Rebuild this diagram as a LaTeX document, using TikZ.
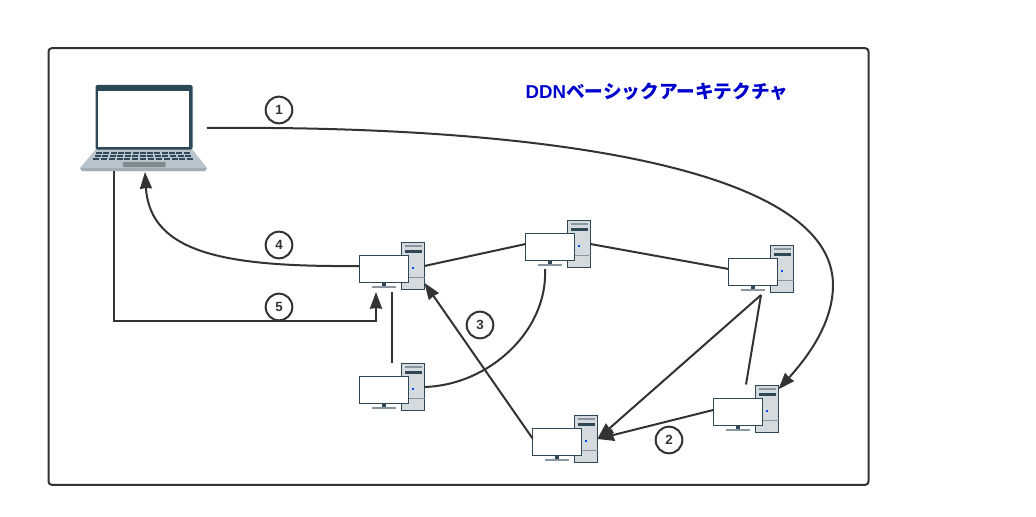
\documentclass[tikz,border=0pt]{standalone}
\usepackage{fontspec}
\usepackage{tikz}
\usetikzlibrary{arrows.meta}
\setmainfont{Liberation Sans}
\newfontfamily\cjkfont{Noto Sans CJK JP}
\definecolor{inkline}{HTML}{333333}
\definecolor{navyline}{HTML}{2F4858}
\definecolor{towerfill}{HTML}{D5DADF}
\definecolor{slotgray}{HTML}{8A969F}
\definecolor{basegray}{HTML}{B9C3CB}
\definecolor{edgegray}{HTML}{A2ADB6}
\definecolor{padgray}{HTML}{7F8B8C}
\definecolor{titleblue}{HTML}{0000CC}

\begin{document}
\begin{tikzpicture}[%
  x=0.75pt, y=-0.75pt,
  link/.style={draw=inkline, line width=1.5pt},
  arrowlink/.style={link, -{Stealth[length=12.5pt, width=9pt, inset=0.5pt]}},
  step label/.style={circle, draw=inkline, line width=1.5pt, minimum size=20pt, inner sep=0pt, font=\fontsize{10}{12}\selectfont\bfseries, text=inkline},
  monbox/.style={rectangle, draw=navyline, fill=white, line width=1pt, minimum width=36.5pt, minimum height=20.5pt, inner sep=0pt, outer sep=0pt},
  towerbox/.style={rectangle, draw=navyline, fill=towerfill, line width=1pt, minimum width=17pt, minimum height=35.5pt, inner sep=0pt, outer sep=0pt},
  pics/pc/.style={code={
    \node[towerbox] (-tow) at (54,11) {};
    \fill[slotgray] (45.5,-10) rectangle (62.5,-8);
    \fill[navyline] (45.5,-5) rectangle (62.5,-2);
    \fill[blue!70!cyan] (53,11.7) rectangle (55,13.7);
    \draw[slotgray] (43,22.3) -- (65.5,22.3);
    \node[monbox] (-mon) at (25,14) {};
    \fill[navyline] (23,28) rectangle (27,31);
    \fill[slotgray] (13,31) rectangle (37,33);
    \coordinate (-foot) at (33,37);
    \coordinate (-top) at (33,-13.5);
    \coordinate (-in) at (17,37);
    \coordinate (-under) at (20,36);
  }},]
  \useasboundingbox (0,0) rectangle (1036,517);
  \fill[white] (0,0) rectangle (1036,517);
  \node[rectangle, draw=inkline, line width=1.5pt, rounded corners=2.5pt, minimum width=615pt, minimum height=327.5pt, inner sep=0pt] (frame) at (458.5,266.5) {};
  \node[text=titleblue, font=\fontsize{14}{16}\selectfont\bfseries] (title) at (657,92) {DDN{\cjkfont ベーシックアーキテクチャ}};

  % laptop
  \fill[basegray] (96,149) -- (192,149) -- (207,168) -- (205,171) -- (82,171) -- (80,168) -- cycle;
  \fill[edgegray] (80,168) -- (207,168) -- (205,171) -- (82,171) -- cycle;
  \fill[navyline, rounded corners=1pt] (95.5,85) rectangle (192.5,149.5);
  \node[rectangle, fill=white, minimum width=68pt, minimum height=42pt, inner sep=0pt] (screen) at (143.2,119) {};
  \foreach \ya/\xa/\kw in {151.5/96/7.3,154.5/94.5/7.55,157.5/93/7.85} {
    \foreach \k in {0,...,12} {
      \fill[navyline] ({\xa+\k*\kw},\ya) rectangle ++(6,2.5);
    }
  }
  \fill[padgray, rounded corners=0.5pt] (123,162) rectangle (165.5,167);
  \coordinate (lapOut) at (207,128);
  \coordinate (lapIn) at (145,172);
  \coordinate (lapDown) at (114,171);
  \coordinate (lowTurn) at (376,321);

  \pic (pcA) at (359,255) {pc};
  \pic (pcB) at (525,233) {pc};
  \pic (pcC) at (728,258) {pc};
  \pic (pcD) at (359,376) {pc};
  \pic (pcE) at (713,398) {pc};
  \pic (pcF) at (532,428) {pc};

  \draw[link] (pcA-tow.east) -- (pcB-mon.173);
  \draw[link] (pcB-tow.east) -- (pcC-mon.173);
  \draw[link] (pcC-foot) -- (pcE-top);
  \draw[link] (pcD-top) -- (pcA-foot);
  \draw[link] (pcD-tow.east) .. controls (490,385) and (548,330) .. (pcB-under);
  \draw[arrowlink] (pcC-foot) -- (pcF-tow.east);
  \draw[arrowlink] (pcE-mon.175) -- (pcF-tow.east);
  \draw[arrowlink] (pcF-mon.172) -- (pcA-tow.-56);
  \draw[arrowlink] (pcA-mon.173) .. controls (230,267) and (150,255) .. (lapIn);
  \draw[arrowlink] (lapDown) |- (lowTurn) -- (pcA-in);
  \draw[arrowlink] (lapOut) .. controls (530,125) and (833,165) .. (833,285) .. controls (833,325) and (805,360) .. (pcE-tow.60);

  \node[step label, fill=white] (stepOne) at (279,110) {1};
  \node[step label, fill=white] (stepTwo) at (669,440) {2};
  \node[step label, fill=white] (stepThree) at (480,325) {3};
  \node[step label, fill=white] (stepFour) at (279,245) {4};
  \node[step label, fill=white] (stepFive) at (279,307) {5};
\end{tikzpicture}
\end{document}
